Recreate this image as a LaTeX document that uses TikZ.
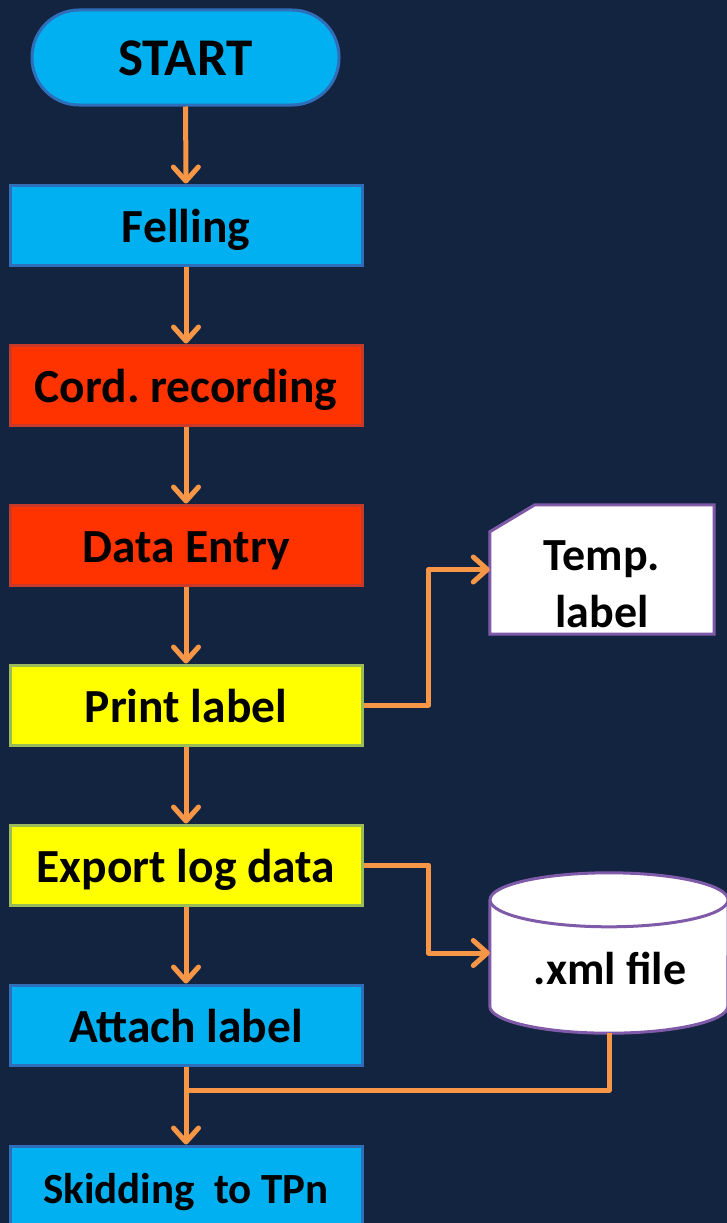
\documentclass[tikz,border=0pt]{standalone}
\usepackage{fontspec}
\setmainfont{Carlito}
\usetikzlibrary{arrows.meta,calc}
\frenchspacing
\definecolor{bg}{HTML}{12243F}
\definecolor{conn}{HTML}{F79646}
\definecolor{bfill}{HTML}{00B0F0}
\definecolor{bline}{HTML}{2F6EBA}
\definecolor{rfill}{HTML}{FF3300}
\definecolor{rline}{HTML}{C9392A}
\definecolor{yfill}{HTML}{FFFF00}
\definecolor{yline}{HTML}{9BBB59}
\definecolor{pline}{HTML}{7F5AA8}
\tikzset{
  procbox/.style={draw, line width=3pt, minimum width=352pt, minimum height=80pt, inner sep=0pt,
    font=\fontsize{47.5}{56}\selectfont\bfseries, text height=41pt, text depth=7pt},
  bluebox/.style={procbox, fill=bfill, draw=bline},
  redbox/.style={procbox, fill=rfill, draw=rline},
  yelbox/.style={procbox, fill=yfill, draw=yline},
  link/.style={draw=conn, line width=5pt, line join=round},
  arr/.style={link, -{Straight Barb[length=14pt,width=25pt,line width=5pt,round]}},
  bigtext/.style={font=\fontsize{46}{57}\selectfont\bfseries, inner sep=0pt}
}
\begin{document}
\begin{tikzpicture}[x=1pt,y=-1pt]
\fill[bg] (0,0) rectangle (727,1223);
\useasboundingbox (0,0) rectangle (727,1223);

\node[bluebox, minimum width=307pt, minimum height=95pt, rounded corners=47pt,
  font=\fontsize{53}{62}\selectfont\bfseries, text height=44pt, text depth=9pt] (start) at (185.5,57.5) {START};
\node[bluebox] (fell) at (186,225) {Felling};
\node[redbox] (cord) at (186,385) {Cord.\ recording};
\node[redbox] (data) at (186,545) {Data Entry};
\node[yelbox] (print) at (186,705) {Print label};
\node[yelbox] (export) at (186,865) {Export log data};
\node[bluebox] (attach) at (186,1025) {Attach label};
\node[bluebox, font=\fontsize{43}{52}\selectfont\bfseries] (skid) at (186,1186) {Skidding\ \ to TPn};

% Temp. label (card shape)
\node[minimum width=224pt, minimum height=129pt, inner sep=0pt] (temp) at (602,569.5) {};
\draw[fill=white, draw=pline, line width=3pt, line join=miter]
  ($(temp.north west)+(0,27)$) -- ($(temp.north west)+(45,0)$) -- (temp.north east)
  -- (temp.south east) -- (temp.south west) -- cycle;
\node[bigtext, align=center] (templbl) at (602,584) {Temp.\\label};

% .xml file (cylinder)
\node[minimum width=238pt, minimum height=160pt, inner sep=0pt] (xml) at (609,953) {};
\fill[white] ($(xml.north west)+(0,27)$) -- ($(xml.south west)+(0,-27)$)
  arc[start angle=180, end angle=360, x radius=119pt, y radius=27pt]
  -- ($(xml.north east)+(0,27)$) -- cycle;
\draw[draw=pline, line width=3pt] ($(xml.north west)+(0,27)$) -- ($(xml.south west)+(0,-27)$)
  arc[start angle=180, end angle=360, x radius=119pt, y radius=27pt]
  -- ($(xml.north east)+(0,27)$);
\draw[fill=white, draw=pline, line width=3pt] ($(xml.north)+(0,27)$) ellipse[x radius=119pt, y radius=27pt];
\node[bigtext] (xmllbl) at (610,968) {.xml file};

% connectors
\draw[arr] (start) -- (fell);
\draw[arr] (fell) -- (cord);
\draw[arr] (cord) -- (data);
\draw[arr] (data) -- (print);
\draw[arr] (print) -- (export);
\draw[arr] (export) -- (attach);
\draw[arr] (attach) -- (skid);
\draw[arr] (print.east) -- ++(65,0) |- (temp.west);
\draw[arr] (export.east) -- ++(65,0) |- (xml.west);
\coordinate (join) at (186,1090);
\draw[link] (xml.south) |- (join);
\end{tikzpicture}
\end{document}
